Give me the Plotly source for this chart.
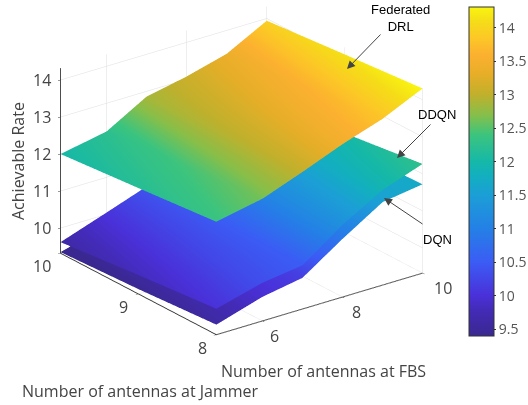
import plotly.graph_objects as go

fbs = [4.85, 6, 7, 8, 9, 10]
jammer = [8, 9, 10]
z_fed = [[12.37, 12.62, 13.02, 13.45, 13.81, 14.31],
         [12.18, 12.43, 12.94, 13.27, 13.59, 14.13],
         [12.0, 12.24, 12.86, 13.08, 13.37, 13.94]]
z_ddqn = [[10.02, 10.35, 10.5, 11.27, 11.89, 12.27],
          [9.83, 10.2, 10.48, 11.15, 11.7, 12.0],
          [9.62, 10.05, 10.43, 11.0, 11.5, 11.95]]
z_dqn = [[9.59, 9.97, 10.16, 10.89, 11.56, 11.72],
         [9.45, 9.85, 10.15, 10.75, 11.4, 11.65],
         [9.35, 9.7, 10.1, 10.6, 11.2, 11.55]]
fbs_ticks = [6, 8, 10]
jammer_ticks = [8, 9, 10]
rate_ticks = [10, 11, 12, 13, 14]
cbar_ticks = [9.5, 10, 10.5, 11, 11.5, 12, 12.5, 13, 13.5, 14]
cbar_labels = ["9.5", "10", "10.5", "11", "11.5", "12", "12.5", "13", "13.5", "14"]
parula = [[0.0, "#3a2890"], [0.08, "#432bb8"], [0.122, "#4a30d8"], [0.224, "#3b5cf5"],
          [0.326, "#2480e6"], [0.428, "#1c9ed6"], [0.489, "#12b0be"], [0.53, "#15b8a8"],
          [0.611, "#3cc47e"], [0.672, "#86bf4a"], [0.733, "#c0b02c"], [0.794, "#e6ae28"],
          [0.855, "#fcb030"], [0.906, "#fcc826"], [0.957, "#f5dd18"], [1.0, "#f9f510"]]

fig = go.Figure()
for i, z in enumerate([z_fed, z_ddqn, z_dqn]):
    fig.add_trace(go.Surface(x=fbs, y=jammer, z=z, coloraxis="coloraxis",
                             lighting=dict(ambient=1, diffuse=0, specular=0, fresnel=0),
                             hoverinfo="skip"))

ax = dict(showbackground=False, gridcolor="#dedede", gridwidth=1, showline=True,
          linecolor="#333333", linewidth=2, ticks="outside", ticklen=3, tickcolor="#333333",
          showticklabels=False, title=dict(text=""), showspikes=False, zeroline=False)
tick_font = dict(family="Open Sans", size=16, color="#444444")
xmin, ymin, ymax = fbs[0], jammer[0], jammer[-1]
zmin = 9.32
tick_notes = []
def tick(x, y, z, text, dx, dy, anchor="center"):
    tick_notes.append(dict(x=x, y=y, z=z, text=text, showarrow=False, font=tick_font,
                           xanchor=anchor, yanchor="middle", xshift=dx, yshift=dy))
for v in rate_ticks:
    tick(xmin, ymax, v, str(v), -7, 0, "right")
for v, dx in zip(jammer_ticks, [-14, -15, -18]):
    tick(xmin, v, zmin, str(v), dx, -13)
for v, dx in zip(fbs_ticks, [12, 14, 20]):
    tick(v, ymin, zmin, str(v), dx, -15)

k = 3.0
scale = 1.277
c = (0.0491, -0.1188, -0.1432)
fig.update_layout(
    width=528, height=405, margin=dict(l=0, r=0, t=0, b=0, autoexpand=False), paper_bgcolor="white",
    showlegend=False,
    coloraxis=dict(cmin=9.4, cmax=14.31, colorscale=parula,
                   colorbar=dict(x=469/528, xanchor="left", xref="paper", y=1-7/405, yanchor="top",
                                 yref="paper", thickness=25, thicknessmode="pixels", len=329,
                                 lenmode="pixels", xpad=0, ypad=0, outlinecolor="#333333", outlinewidth=1,
                                 ticks="outside", ticklen=2, tickcolor="#333333",
                                 tickvals=cbar_ticks, ticktext=cbar_labels,
                                 tickfont=dict(family="Open Sans", size=14, color="#555555"))),
    scene=dict(
        domain=dict(x=[0, 1], y=[0, 1]),
        aspectmode="manual", aspectratio=dict(x=scale, y=scale, z=0.779*scale),
        xaxis=dict(ax, range=[4.85, 10], tickvals=fbs_ticks),
        yaxis=dict(ax, range=[8, 10], tickvals=jammer_ticks),
        zaxis=dict(ax, range=[zmin, 14.32], tickvals=rate_ticks),
        annotations=tick_notes,
        camera=dict(projection=dict(type="orthographic"),
                    eye=dict(x=c[0]-0.554*k, y=c[1]-0.733*k, z=c[2]+0.395*k),
                    center=dict(x=c[0], y=c[1], z=c[2]), up=dict(x=0, y=0, z=1)),
    ),
)
lab = dict(family="Open Sans", size=16, color="#444444")
note = dict(family="Liberation Sans", size=13, color="black")
def px(x): return x/528
def py(y): return 1-y/405
def label(x, y, text, font, angle=0):
    fig.add_annotation(x=px(x), y=py(y), xref="paper", yref="paper", xanchor="center", yanchor="middle",
                       text=text, textangle=angle, showarrow=False, font=font)
label(323, 371, "Number of antennas at FBS", lab)
label(140, 391, "Number of antennas at Jammer", lab)
label(18, 161, "Achievable Rate", lab, -90)
label(400, 18, "Federated<br>DRL", note)
label(437, 115, "DDQN", note)
label(437, 239, "DQN", note)
for (x0, y0, x1, y1) in [(382, 33, 347, 69), (432, 123, 397, 158), (424, 225, 384, 198)]:
    fig.add_annotation(x=px(x1), y=py(y1), ax=x0-x1, ay=y0-y1, xref="paper", yref="paper", axref="pixel", ayref="pixel",
                       xanchor="center", yanchor="middle",
                       text="", showarrow=True, arrowhead=2, arrowsize=1.6, arrowwidth=1, arrowcolor="#444444")
fig.write_html("out.html", post_script="document.body.style.margin='0';", config={"displayModeBar": False})
